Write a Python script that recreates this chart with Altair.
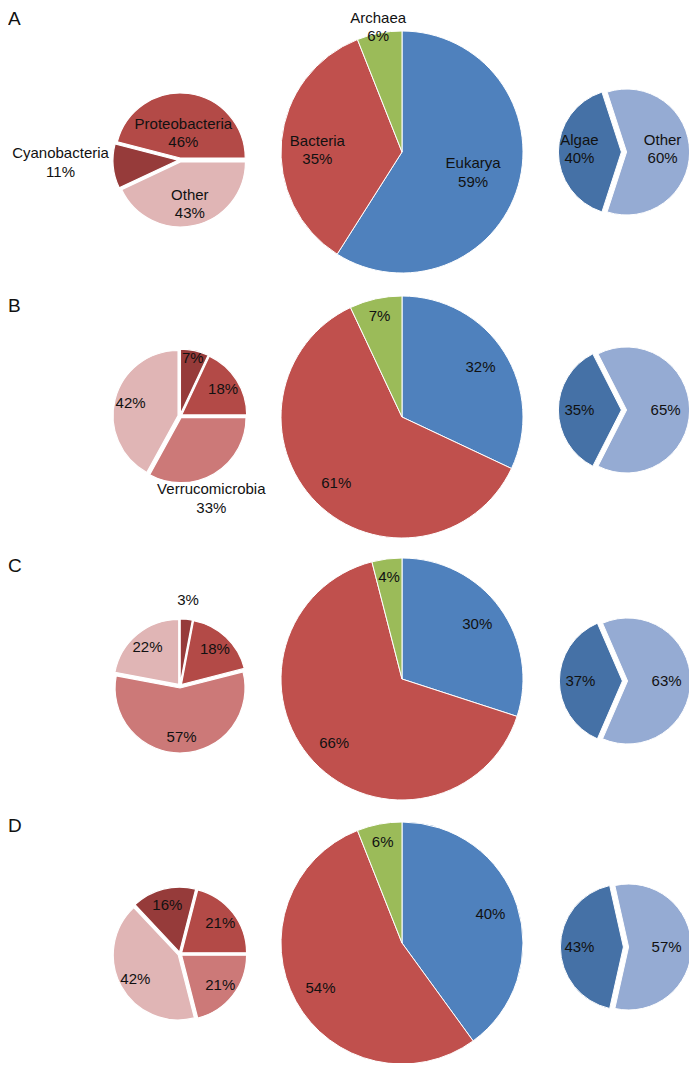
import math
import altair as alt
import pandas as pd

# ---------------- data ----------------
PANELS = ["A", "B", "C", "D"]

LEFT_NAMES = ["Cyanobacteria", "Proteobacteria", "Verrucomicrobia", "Other"]
LEFT_VALUES = {
    "A": [11, 46, None, 43],
    "B": [7, 18, 33, 42],
    "C": [3, 18, 57, 22],
    "D": [16, 21, 21, 42],
}

MID_NAMES = ["Eukarya", "Bacteria", "Archaea"]
MID_VALUES = {
    "A": [59, 35, 6],
    "B": [32, 61, 7],
    "C": [30, 66, 4],
    "D": [40, 54, 6],
}

RIGHT_NAMES = ["Algae", "Other"]
RIGHT_VALUES = {
    "A": [40, 60],
    "B": [35, 65],
    "C": [37, 63],
    "D": [43, 57],
}

RINGS = {
    "left": (LEFT_NAMES, LEFT_VALUES),
    "mid": (MID_NAMES, MID_VALUES),
    "right": (RIGHT_NAMES, RIGHT_VALUES),
}

# a category's name is written next to its percentage the first time it appears
rows = []
seen = set()
for p in PANELS:
    for ring, (names, vals) in RINGS.items():
        for i, (n, v) in enumerate(zip(names, vals[p])):
            if v is None:
                continue
            if (ring, n) not in seen:
                lab = f"{n}\n{v}%"
                seen.add((ring, n))
            else:
                lab = f"{v}%"
            rows.append(dict(panel=p, ring=ring, name=n, value=v, idx=i, label=lab))
df = pd.DataFrame(rows)

# ---------------- style / layout ----------------
M = 8  # page margin
CENTERS = {
    ("A", "left"): (180, 160), ("A", "mid"): (402, 152), ("A", "right"): (624, 152),
    ("B", "left"): (180, 416), ("B", "mid"): (402, 417), ("B", "right"): (624, 410),
    ("C", "left"): (180, 686), ("C", "mid"): (402, 679), ("C", "right"): (625, 681),
    ("D", "left"): (180, 954), ("D", "mid"): (402, 943), ("D", "right"): (626, 947),
}
RADIUS = {"left": 65, "mid": 121, "right": 63}
EXPLODE = {"left": 2.0, "mid": 0.0, "right": 2.6}
STROKE_W = {"left": 1.2, "mid": 1.0, "right": 1.0}
COLORS = {
    "left": ["#963B3A", "#B34A47", "#CC7978", "#E0B5B5"],
    "mid": ["#4F81BD", "#C0504D", "#9BBB59"],
    "right": ["#4571A6", "#95ABD3"],
}
LEFT_START_DEG = {"A": -115.2, "B": 0, "C": 0, "D": -43.2}
LABEL_R_DEFAULT = {"left": 49, "mid": 93, "right": 40}
LABEL_R_SMALL_MID = 103
LABEL_R_OVERRIDE = {
    ("A", "left"): {"Proteobacteria": 25, "Other": 43, "Cyanobacteria": 118},
    ("B", "left"): {"Cyanobacteria": 57, "Verrucomicrobia": 87},
    ("C", "left"): {"Cyanobacteria": 84},
    ("A", "mid"): {"Eukarya": 74, "Bacteria": 85, "Archaea": 127},
    ("A", "right"): {"Algae": 42, "Other": 36},
    ("B", "right"): {"Algae": 42, "Other": 39},
    ("C", "right"): {"Algae": 42, "Other": 39},
    ("D", "right"): {"Algae": 44, "Other": 38},
}
LABEL_NUDGE = {  # (dx, dy) in px
    ("A", "left", "Cyanobacteria"): (0, -9),
    ("A", "mid", "Bacteria"): (0, 6),
    ("A", "right", "Algae"): (0, -3),
    ("A", "right", "Other"): (0, -3),
    ("B", "left", "Verrucomicrobia"): (-14, 6),
}
LINE_H = 18.5
LETTER_Y = {"A": 18.5, "B": 305.5, "C": 566, "D": 825.5}
FONT = "Liberation Sans"
TEXT_COLOR = "#111111"


def start_angle(panel, ring):
    if ring == "mid":
        return 0.0
    if ring == "left":
        return math.radians(LEFT_START_DEG[panel])
    algae = RIGHT_VALUES[panel][0]
    return math.radians(270 - 1.8 * algae)


def label_radius_expr(panel, ring):
    default = LABEL_R_DEFAULT[ring]
    expr = str(default)
    if ring == "mid" and panel != "A":
        expr = f"(datum.value < 10 ? {LABEL_R_SMALL_MID} : {default})"
    for name, r in LABEL_R_OVERRIDE.get((panel, ring), {}).items():
        expr = f"(datum.name == '{name}' ? {r} : {expr})"
    return expr


def nudge_expr(panel, ring, k):
    sub = df[(df.panel == panel) & (df.ring == ring)]
    expr = "0"
    for _, r in sub.iterrows():
        n_lines = r["label"].count("\n") + 1
        val = LABEL_NUDGE.get((panel, ring, r["name"]), (0, 0))[k]
        if k == 1:
            val += -(n_lines - 1) * LINE_H / 2
        if val != 0:
            expr = f"(datum.name == '{r['name']}' ? {val} : {expr})"
    return expr


layers = []
for p in PANELS:
    for ring, (names, _) in RINGS.items():
        cx, cy = CENTERS[(p, ring)]
        cx -= M
        cy -= M
        s = start_angle(p, ring)
        d = EXPLODE[ring]
        base = (
            alt.Chart()
            .transform_filter(f"datum.panel == '{p}' && datum.ring == '{ring}'")
            .transform_window(cum="sum(value)", sort=[alt.SortField("idx")], frame=[None, 0])
            .transform_calculate(
                mid=f"{s} + 2*PI*(datum.cum - datum.value/2)/100",
            )
            .transform_calculate(
                px=f"{cx} + {d}*sin(datum.mid)",
                py=f"{cy} - {d}*cos(datum.mid)",
                lr=label_radius_expr(p, ring),
                ldx=nudge_expr(p, ring, 0),
                ldy=nudge_expr(p, ring, 1),
            )
            .encode(
                theta=alt.Theta("value:Q", stack=True,
                                scale=alt.Scale(domain=[0, 100], range=[s, s + 2 * math.pi])),
                order=alt.Order("idx:Q"),
                x=alt.X("px:Q", scale=None),
                y=alt.Y("py:Q", scale=None),
            )
        )
        present = [n for n, v in zip(names, RINGS[ring][1][p]) if v is not None]
        cols = [c for c, v in zip(COLORS[ring], RINGS[ring][1][p]) if v is not None]
        arc = base.mark_arc(outerRadius=RADIUS[ring], stroke="white",
                            strokeWidth=STROKE_W[ring]).encode(
            color=alt.Color("name:N", scale=alt.Scale(domain=present, range=cols), legend=None)
        )
        txt = base.mark_text(
            font=FONT, fontSize=15, lineBreak="\n", lineHeight=LINE_H,
            align="center", baseline="middle", color=TEXT_COLOR,
            radius=alt.ExprRef(expr="datum.lr"),
            dx=alt.ExprRef(expr="datum.ldx"),
            dy=alt.ExprRef(expr="datum.ldy"),
        ).encode(text="label:N", detail="name:N")
        layers += [arc, txt]

for p in PANELS:
    layers.append(
        alt.Chart(alt.Data(values=[{"t": p}]))
        .mark_text(font=FONT, fontSize=19, align="left", baseline="middle", color=TEXT_COLOR)
        .encode(text="t:N", x=alt.value(0), y=alt.value(LETTER_Y[p] - M))
    )

chart = (
    alt.layer(*layers, data=df)
    .resolve_scale(theta="independent", color="independent")
    .properties(width=681, height=1055, padding=0,
                autosize=alt.AutoSizeParams(type="none"))
    .configure_view(stroke=None)
)

chart.save("out.html", embed_options={"renderer": "svg", "actions": False})
